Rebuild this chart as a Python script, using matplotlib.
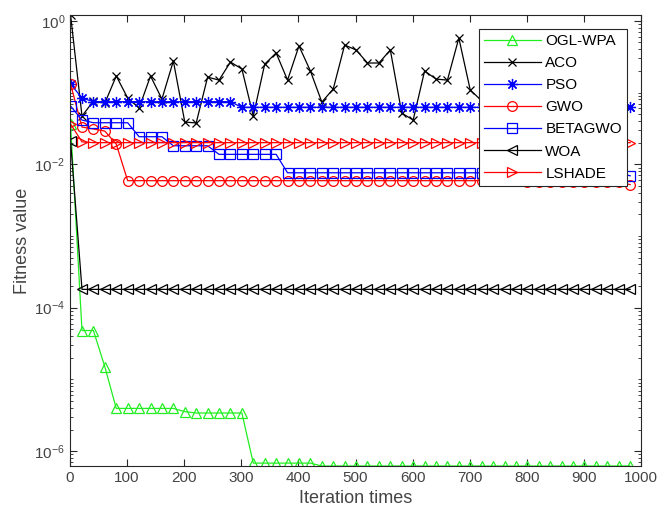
import numpy as np
import matplotlib
matplotlib.use("Agg")
import matplotlib.pyplot as plt
from matplotlib.ticker import FixedLocator, LogLocator, NullFormatter

plt.rcParams['font.family'] = ['Liberation Sans', 'DejaVu Sans']
plt.rcParams['mathtext.fontset'] = 'custom'
plt.rcParams['mathtext.rm'] = 'Liberation Sans'
plt.rcParams['mathtext.it'] = 'Liberation Sans'

iterations = list(range(1, 1001, 20))

ogl_wpa = [0.036, 4.8e-5, 4.8e-5, 1.5e-5] + [3.94e-6] * 6 + [3.55e-6] + [3.4e-6] * 5 \
    + [6.8e-7] * 6 + [6.2e-7] * 28
aco = [1.205, 0.047, 0.076, 0.0711, 0.170, 0.0838, 0.0608, 0.170, 0.0811, 0.275,
       0.0388, 0.0376, 0.164, 0.149, 0.266, 0.213, 0.047, 0.249, 0.356, 0.149,
       0.446, 0.200, 0.0736, 0.112, 0.460, 0.392, 0.258, 0.258, 0.392, 0.0517,
       0.0413, 0.200, 0.154, 0.149, 0.575, 0.108, 0.077, 0.16, 0.12, 0.06,
       0.2, 0.09, 0.15, 0.3, 0.08, 0.11, 0.07, 0.18, 0.09, 0.062]
pso = [0.1316, 0.0838] + [0.0745] * 13 + [0.0622] * 35
gwo = [0.131, 0.033, 0.031, 0.029, 0.0191] + [0.0059] * 35 + [0.0056] * 9 + [0.0052]
betagwo = [0.0649, 0.0413] + [0.0379] * 4 + [0.0242] * 3 + [0.0181] * 4 + [0.01374] * 6 \
    + [0.0076] * 30 + [0.0069]
woa = [0.021] + [1.8e-4] * 49
lshade = [0.0364, 0.0205] + [0.0200] * 48

names = ['OGL-WPA', 'ACO', 'PSO', 'GWO', 'BETAGWO', 'WOA', 'LSHADE']
series = [ogl_wpa, aco, pso, gwo, betagwo, woa, lshade]
colors = ['#22ee22', 'k', '#0000ff', '#ff0000', '#0000ff', 'k', '#ff0000']
markers = ['^', 'x', (8, 2, 0), 'o', 's', '<', '>']
msizes = [7.5, 6, 8, 7, 6.5, 7.5, 7.5]

fig = plt.figure(figsize=(6.66, 5.24), dpi=100)
ax = fig.add_axes([70 / 666, 1 - 466 / 524, 571 / 666, 451 / 524])

for name, y, c, m, ms in zip(names, series, colors, markers, msizes):
    ax.semilogy(iterations, y, color=c, marker=m, markersize=ms,
                markerfacecolor='none', markeredgecolor=c, markeredgewidth=0.9,
                linewidth=0.9, label=name)

allv = np.concatenate([np.asarray(s) for s in series])
ax.set_xlim(0, 1000)
ax.set_ylim(allv.min(), allv.max())
ax.set_xticks(np.arange(0, 1001, 100))
ax.yaxis.set_major_locator(FixedLocator([1e0, 1e-2, 1e-4, 1e-6]))
ax.yaxis.set_minor_locator(LogLocator(base=10, subs=np.arange(1, 10), numticks=30))
ax.yaxis.set_minor_formatter(NullFormatter())
ax.set_yticklabels([r'$10^{0}$', r'$10^{-2}$', r'$10^{-4}$', r'$10^{-6}$'])

tc = '#444444'
ax.tick_params(axis='both', which='both', direction='in', top=True, right=True,
               colors='#262626', labelcolor=tc, labelsize=11)
ax.tick_params(which='major', length=5, width=0.8)
ax.tick_params(which='minor', length=2.5, width=0.6)
for sp in ax.spines.values():
    sp.set_color('#262626')
    sp.set_linewidth(0.8)

ax.set_xlabel('Iteration times', fontsize=13, color=tc, labelpad=4)
ax.set_ylabel('Fitness value', fontsize=13, color=tc, labelpad=2)

leg = ax.legend(loc='upper right', fontsize=11, frameon=True, fancybox=False,
                edgecolor='#262626', framealpha=1, handlelength=3.7,
                handletextpad=0.3, labelspacing=0.53, borderpad=0.35,
                borderaxespad=0.9)
leg.get_frame().set_linewidth(0.8)

fig.savefig('out.png', dpi=100)
